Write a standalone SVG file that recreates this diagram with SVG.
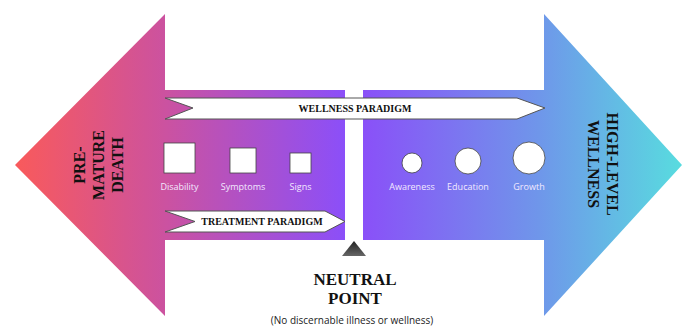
<svg xmlns="http://www.w3.org/2000/svg" width="682" height="326" viewBox="0 0 682 326">
<defs>
<linearGradient id="gl" x1="15" y1="0" x2="345" y2="0" gradientUnits="userSpaceOnUse">
<stop offset="0" stop-color="#f95a5b"/><stop offset="0.45" stop-color="#cc529f"/><stop offset="1" stop-color="#8b4ff9"/>
</linearGradient>
<linearGradient id="gr" x1="363" y1="0" x2="682" y2="0" gradientUnits="userSpaceOnUse">
<stop offset="0" stop-color="#8a50f8"/><stop offset="0.55" stop-color="#6f96ea"/><stop offset="1" stop-color="#58dcdf"/>
</linearGradient>
<linearGradient id="gt" x1="0" y1="241" x2="0" y2="256" gradientUnits="userSpaceOnUse">
<stop offset="0" stop-color="#222"/><stop offset="1" stop-color="#666"/>
</linearGradient>
<style>
.ban{fill:#fff;stroke:#555;stroke-width:1}
.bt{font-family:"Liberation Serif",serif;font-weight:bold;font-size:10px;fill:#111;text-anchor:middle}
.big{font-family:"Liberation Serif",serif;font-weight:bold;font-size:16px;fill:#111;text-anchor:middle}
.lab{font-family:"Open Sans",sans-serif;font-size:9px;fill:#f3e9ff;text-anchor:middle}
.sq{fill:#fff;stroke:#444;stroke-width:0.8}
</style>
</defs>
<g id="left-arrow">
<polygon points="15,165 165,14 165,90 345,90 345,240 165,240 165,316" fill="url(#gl)"/>
<text class="big" transform="translate(95,165) rotate(-90)"><tspan x="0" y="-10">PRE-</tspan><tspan x="0" y="9">MATURE</tspan><tspan x="0" y="28">DEATH</tspan></text>
</g>
<g id="right-arrow">
<polygon points="363,90 544,90 544,14 682,165 544,316 544,240 363,240" fill="url(#gr)"/>
<text class="big" transform="translate(603,164) rotate(90)"><tspan x="0" y="-4">HIGH-LEVEL</tspan><tspan x="0" y="15">WELLNESS</tspan></text>
</g>
<g id="wellness-paradigm">
<polygon class="ban" points="165,98 517,98 545,108 517,119 165,119 193,108"/>
<text class="bt" x="355" y="112">WELLNESS PARADIGM</text>
</g>
<g id="treatment-paradigm">
<polygon class="ban" points="165,211 325,211 345,221.5 325,232 165,232 195,221.5"/>
<text class="bt" x="262" y="225">TREATMENT PARADIGM</text>
</g>
<g id="disability"><rect class="sq" x="164" y="143" width="31" height="30"/><text class="lab" x="179.5" y="190">Disability</text></g>
<g id="symptoms"><rect class="sq" x="230" y="148" width="26" height="25"/><text class="lab" x="243" y="190">Symptoms</text></g>
<g id="signs"><rect class="sq" x="290" y="153" width="21" height="20"/><text class="lab" x="300.5" y="190">Signs</text></g>
<g id="awareness"><circle class="sq" cx="412" cy="163" r="10"/><text class="lab" x="412" y="190">Awareness</text></g>
<g id="education"><circle class="sq" cx="468" cy="161" r="13"/><text class="lab" x="468" y="190">Education</text></g>
<g id="growth"><circle class="sq" cx="529" cy="158" r="16"/><text class="lab" x="529" y="190">Growth</text></g>
<g id="neutral-point">
<polygon points="354,241 366,256 342,256" fill="url(#gt)"/>
<text class="big" x="355" y="285" style="font-size:17px">NEUTRAL</text>
<text class="big" x="355" y="304" style="font-size:17px">POINT</text>
<text x="352" y="324" style="font-family:'Open Sans',sans-serif;font-size:10px;fill:#222;text-anchor:middle">(No discernable illness or wellness)</text>
</g>
<g id="connectors"></g>
</svg>
